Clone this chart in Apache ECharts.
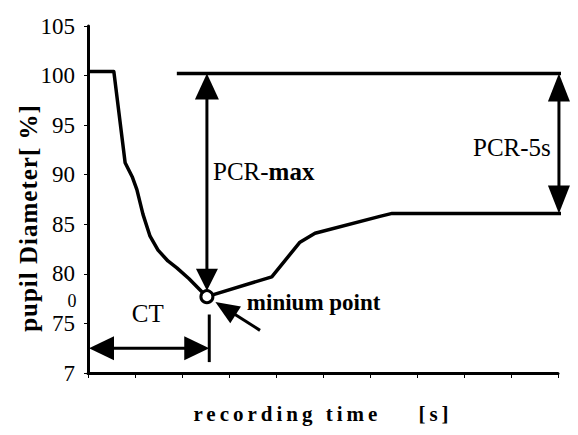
<!DOCTYPE html>
<html>
<head>
<meta charset="utf-8">
<script src="https://cdn.jsdelivr.net/npm/echarts@6/dist/echarts.min.js"></script>
<style>
  html, body { margin: 0; padding: 0; background: #fff; }
  #chart { width: 578px; height: 435px; }
</style>
</head>
<body>
<div id="chart"></div>
<script>
// Pupil light reflex: relative pupil diameter over the recording time

// axis ticks
const timeTicks = [0, 1, 2, 3, 4, 5, 6, 7, 8, 9, 10];
const yTickValues = [70, 75, 80, 85, 90, 95, 100, 105];
const yTickLabels = ['7', '75', '80', '85', '90', '95', '100', '105'];

// measured pupil diameter curve
const diameterTime  = [0, 0.55, 0.79, 0.94, 1.04, 1.17, 1.32, 1.49, 1.70, 1.89, 2.15, 2.38, 2.53, 3.91, 4.51, 4.83, 6.21, 6.47, 10.36];
const diameterValue = [100.4, 100.4, 91.2, 89.8, 88.5, 86.0, 83.8, 82.4, 81.3, 80.6, 79.5, 78.4, 77.7, 79.7, 83.2, 84.1, 85.8, 86.1, 86.1];

// minimum of the constriction
const minPoint = [2.53, 77.7];

// reference level and the measured spans
const baselineLine = [[1.89, 100.2], [10.36, 100.2]];
const pcrMaxSpan   = [[2.53, 100.2], minPoint];
const pcr5sSpan    = [[10.02, 100.2], [10.02, 86.1]];
const ctSpan       = [[0, 72.5], [2.58, 72.5]];
const ctMarker     = [[2.58, 75.9], [2.58, 71.1]];
const minPointer   = [[3.66, 74.3], minPoint];

const serif = '"Liberation Serif", "Times New Roman", serif';

// arrow specs: which ends carry a head, pixel gap at each end, head [length, width] per end
const arrowSpecs = [
  { span: pcrMaxSpan, heads: [true, true],  gap: [0, 6],  size: [[26, 24], [22, 22]] },
  { span: pcr5sSpan,  heads: [true, true],  gap: [0, 0],  size: [[28, 22], [28, 22]] },
  { span: ctSpan,     heads: [true, true],  gap: [1, 0],  size: [[25, 24], [25, 24]] },
  { span: minPointer, heads: [false, true], gap: [0, 10], size: [[0, 0], [24, 20]] }
];

function buildArrow(api, spec, out) {
  const p0 = api.coord(spec.span[0]);
  const p1 = api.coord(spec.span[1]);
  let dx = p1[0] - p0[0], dy = p1[1] - p0[1];
  const len = Math.hypot(dx, dy);
  dx /= len; dy /= len;
  const a = [p0[0] + dx * spec.gap[0], p0[1] + dy * spec.gap[0]];
  const b = [p1[0] - dx * spec.gap[1], p1[1] - dy * spec.gap[1]];
  let s = a.slice(), e = b.slice();
  const head = (tip, ux, uy, L, W) => {
    const bx = tip[0] - ux * L, by = tip[1] - uy * L;
    const nx = -uy, ny = ux;
    out.push({
      type: 'polygon',
      shape: { points: [tip, [bx + nx * W / 2, by + ny * W / 2], [bx - nx * W / 2, by - ny * W / 2]] },
      style: { fill: '#000' }
    });
  };
  if (spec.heads[0]) {
    head(a, -dx, -dy, spec.size[0][0], spec.size[0][1]);
    s = [a[0] + dx * spec.size[0][0] * 0.8, a[1] + dy * spec.size[0][0] * 0.8];
  }
  if (spec.heads[1]) {
    head(b, dx, dy, spec.size[1][0], spec.size[1][1]);
    e = [b[0] - dx * spec.size[1][0] * 0.8, b[1] - dy * spec.size[1][0] * 0.8];
  }
  out.push({
    type: 'line',
    shape: { x1: s[0], y1: s[1], x2: e[0], y2: e[1] },
    style: { stroke: '#000', lineWidth: 3 }
  });
}

function renderAnnotations(params, api) {
  const children = [];
  arrowSpecs.forEach(spec => buildArrow(api, spec, children));

  const m0 = api.coord(ctMarker[0]), m1 = api.coord(ctMarker[1]);
  children.push({
    type: 'line',
    shape: { x1: m0[0], y1: m0[1], x2: m1[0], y2: m1[1] },
    style: { stroke: '#000', lineWidth: 3 }
  });

  const label = (pos, text, align, font, rich) => {
    const p = api.coord(pos);
    children.push({
      type: 'text', x: p[0], y: p[1],
      style: { text: text, fill: '#000', font: font, align: align, verticalAlign: 'middle', rich: rich }
    });
  };
  label([2.66, 90.3], '{a|PCR-}{b|max}', 'left', '25px ' + serif, {
    a: { font: '25px ' + serif, fill: '#000' },
    b: { font: 'bold 25px ' + serif, fill: '#000' }
  });
  label([9.02, 92.7], 'PCR-5s', 'center', '25px ' + serif);
  label([1.27, 76.0], 'CT', 'center', '25px ' + serif);
  label([3.38, 77.1], 'minium point', 'left', 'bold 23px ' + serif);

  return { type: 'group', children: children };
}

const chart = echarts.init(document.getElementById('chart'), null, { renderer: 'svg' });

chart.setOption({
  animation: false,
  backgroundColor: '#fff',
  grid: { left: 88, right: 20, top: 26, bottom: 62 },
  xAxis: {
    type: 'value',
    min: timeTicks[0],
    max: timeTicks[timeTicks.length - 1],
    interval: 1,
    axisLine: { lineStyle: { color: '#000', width: 3 } },
    axisTick: { show: true, length: 5, lineStyle: { color: '#000', width: 1 } },
    axisLabel: { show: false },
    splitLine: { show: false }
  },
  yAxis: {
    type: 'value',
    min: yTickValues[0],
    max: yTickValues[yTickValues.length - 1],
    interval: 5,
    axisLine: { show: true, lineStyle: { color: '#000', width: 3 } },
    axisTick: { show: true, length: 4, lineStyle: { color: '#000', width: 1 } },
    axisLabel: {
      margin: 13,
      color: '#000',
      fontFamily: serif,
      fontSize: 23,
      padding: [0, 0, 12, 0],
      formatter: v => {
        const i = yTickValues.indexOf(v);
        return i >= 0 ? yTickLabels[i] : '';
      }
    },
    splitLine: { show: false }
  },
  series: [
    {
      name: 'pupil diameter',
      type: 'line',
      data: diameterTime.map((t, i) => [t, diameterValue[i]]),
      symbol: 'none',
      clip: false,
      lineStyle: { color: '#000', width: 3.5, join: 'round' },
      z: 3
    },
    {
      name: 'reference level',
      type: 'line',
      data: baselineLine,
      symbol: 'none',
      clip: false,
      lineStyle: { color: '#000', width: 3.5 },
      z: 3
    },
    {
      name: 'annotations',
      type: 'custom',
      data: [[0, 70]],
      renderItem: renderAnnotations,
      clip: false,
      silent: true,
      z: 4
    },
    {
      name: 'minimum',
      type: 'scatter',
      data: [minPoint],
      symbol: 'circle',
      symbolSize: 12,
      itemStyle: { color: '#fff', borderColor: '#000', borderWidth: 3, opacity: 1 },
      z: 5
    }
  ],
  graphic: [
    {
      type: 'text',
      x: 28, y: 218,
      rotation: Math.PI / 2,
      style: {
        text: 'pupil Diameter[ %]',
        font: 'bold 25px ' + serif,
        fill: '#000',
        align: 'center',
        verticalAlign: 'middle'
      }
    },
    {
      type: 'text',
      x: 323, y: 414,
      style: {
        text: 'recording time    [s]',
        font: 'bold 21px ' + serif,
        fill: '#000',
        align: 'center',
        verticalAlign: 'middle'
      }
    },
    {
      type: 'text',
      x: 72, y: 301,
      style: {
        text: '0',
        font: '18px ' + serif,
        fill: '#000',
        align: 'center',
        verticalAlign: 'middle'
      }
    }
  ]
});

// widen the tracking of the axis titles
function spaceTitles() {
  chart.getDom().querySelectorAll('text').forEach(t => {
    const s = t.textContent || '';
    if (s.indexOf('recording') === 0) t.style.letterSpacing = '4px';
    else if (s.indexOf('pupil') === 0) t.style.letterSpacing = '1px';
  });
}
chart.on('finished', spaceTitles);
spaceTitles();
</script>
</body>
</html>
